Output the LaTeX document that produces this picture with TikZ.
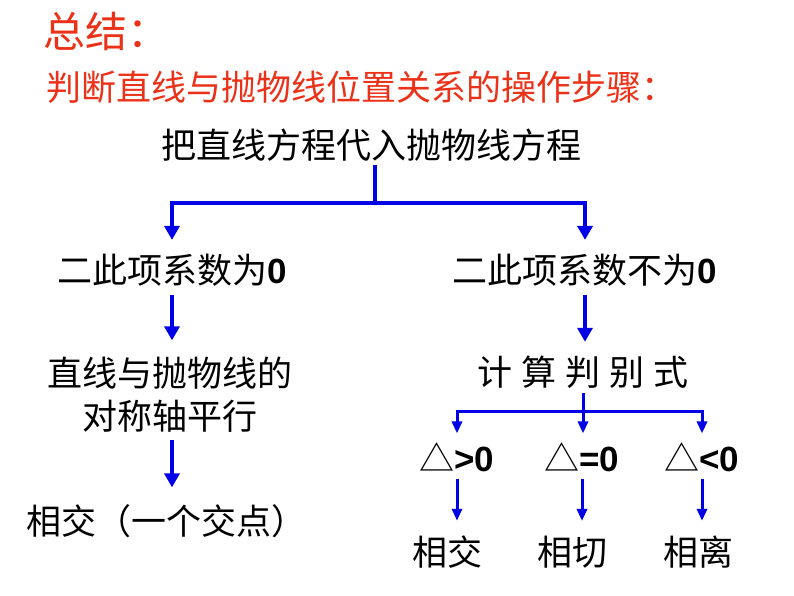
\documentclass[tikz,border=0pt]{standalone}
\usepackage{fontspec}
\setmainfont{Noto Sans CJK SC}
\newfontfamily\arial{Liberation Sans}
\usetikzlibrary{arrows.meta}
\definecolor{titlered}{RGB}{235,50,25}
\definecolor{linkblue}{RGB}{0,0,230}
\tikzset{
  txt/.style={inner sep=0.75pt, font=\fontsize{35}{43}\selectfont},
  bigline/.style={draw=linkblue, line width=4pt},
  bigarrow/.style={bigline, -{Triangle[width=15pt,length=14pt]}},
  smallline/.style={draw=linkblue, line width=3pt},
  smallarrow/.style={smallline, -{Triangle[width=10pt,length=12pt]}},
}
\newcommand{\bzero}[1]{{\arial\bfseries #1}}

\begin{document}
\begin{tikzpicture}[x=1pt,y=1pt,yscale=-1,xscale=1]
\path (0,0) rectangle (794,596);

% Text Node
\draw (43,32) node (title) [anchor=west][inner sep=0.75pt, text=titlered, font=\fontsize{42}{46}\selectfont] {总结：};
% Text Node
\draw (46,87) node (steps) [anchor=west][inner sep=0.75pt, text=titlered, font=\fontsize{35}{40}\selectfont] {判断直线与抛物线位置关系的操作步骤：};
% Text Node
\draw (371,145) node (root) [txt] {把直线方程代入抛物线方程};
% Text Node
\draw (172,270) node (zero) [txt] {二此项系数为\bzero{0}};
% Text Node
\draw (585,270) node (nonzero) [txt] {二此项系数不为\bzero{0}};
% Text Node
\draw (170,395) node (parallel) [txt, align=center] {直线与抛物线的\\对称轴平行};
% Text Node
\draw (166,521) node (one) [txt] {相交（一个交点）};
% Text Node
\draw (583,372) node (disc) [txt] {计\hspace{9pt}算\hspace{9pt}判\hspace{9pt}别\hspace{9pt}式};
% Text Node
\draw (457,457) node (gt) [txt] {△\bzero{>0}};
% Text Node
\draw (582,457) node (eq) [txt] {△\bzero{=0}};
% Text Node
\draw (702,457) node (lt) [txt] {△\bzero{<0}};
% Text Node
\draw (447,552) node (cross) [txt] {相交};
% Text Node
\draw (572,552) node (tangent) [txt] {相切};
% Text Node
\draw (698,552) node (apart) [txt] {相离};

\coordinate (fork) at (375,203);
\coordinate (subfork) at (583,411);

%Straight Lines
\draw [bigline, shorten <=3pt] (root.south -| fork) -- (fork);
\draw [bigarrow, shorten >=13pt] (fork) -| (zero.north);
\draw [bigarrow, shorten >=13pt] (fork) -| (nonzero.north);
%Straight Lines
\draw [bigarrow, shorten <=8pt, shorten >=16pt] (zero.south) -- (zero.south |- parallel.north);
\draw [bigarrow, shorten <=6pt, shorten >=16pt] (parallel.south -| zero) -- (one.north -| zero);
\draw [bigarrow, shorten <=8pt, shorten >=13pt] (nonzero.south) -- (nonzero.south |- disc.north);
%Straight Lines
\draw [smallline, shorten <=4pt] (disc.south -| subfork) -- (subfork);
\draw [smallarrow, shorten >=8pt] (subfork) -| (gt.north);
\draw [smallarrow, shorten >=8pt] (subfork) -- (subfork |- eq.north);
\draw [smallarrow, shorten >=8pt] (subfork) -| (lt.north);
%Straight Lines
\draw [smallarrow, shorten <=6pt, shorten >=14pt] (gt.south) -- (gt.south |- cross.north);
\draw [smallarrow, shorten <=6pt, shorten >=14pt] (eq.south) -- (eq.south |- tangent.north);
\draw [smallarrow, shorten <=6pt, shorten >=14pt] (lt.south) -- (lt.south |- apart.north);

\end{tikzpicture}
\end{document}
